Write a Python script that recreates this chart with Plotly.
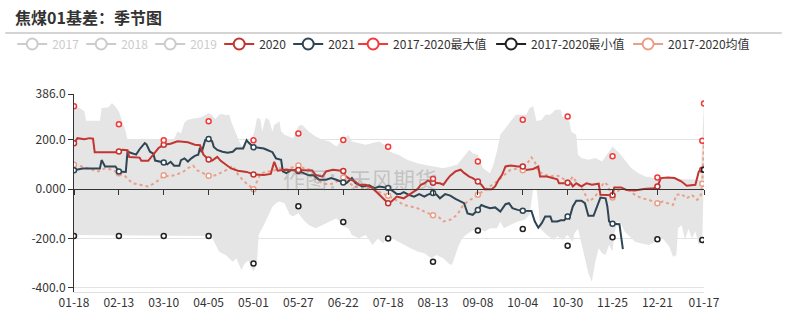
import plotly.graph_objects as go

# ---------------- data ----------------
TICK_IDX = [0, 26, 52, 78, 104, 130, 156, 182, 208, 234, 260, 286, 312, 338, 365]
TICK_LABELS = ['01-18', '02-13', '03-10', '04-05', '05-01', '05-27', '06-22', '07-18',
               '08-13', '09-08', '10-04', '10-30', '11-25', '12-21', '01-17']
MARK_IDX = [0, 26, 52, 78, 104, 130, 156, 182, 208, 234, 260, 286, 312, 338, 364, 365]

Y_TICKS = [386, 200, 0, -200, -400]
Y_TICKTEXT = ['386.0', '200.0', '0.000', '-200.0', '-400.0']
YMIN, YMAX = -417, 386

S2020 = [(0,186),(2,207),(6,203),(9,207),(11,205),(12,150),(25,150),(26,153),(28,160),(31,158),
         (32,130),(38,128),(39,115),(43,115),(45,133),(49,167),(52,180),(56,184),(60,194),(66,190),
         (70,180),(73,178),(75,140),(78,120),(80,116),(83,131),(85,115),(87,104),(91,84),(95,75),
         (100,70),(104,60),(110,58),(114,62),(116,111),(118,75),(122,79),(128,78),(130,78),(138,76),
         (140,58),(144,51),(146,72),(150,79),(156,74),(157,55),(160,40),(163,31),(165,18),(169,18),
         (173,4),(177,-23),(182,-57),(184,-50),(187,-30),(191,-37),(195,-20),(199,0),(201,18),(203,24),
         (205,35),(208,26),(212,24),(214,18),(216,38),(218,55),(221,72),(224,79),(226,66),(229,51),
         (231,45),(234,31),(236,18),(238,0),(242,0),(244,11),(246,38),(248,58),(250,92),(253,96),
         (257,92),(260,92),(262,78),(266,82),(269,92),(270,51),(274,51),(278,42),(280,40),(281,24),
         (286,26),(288,24),(289,11),(291,24),(294,11),(297,24),(300,18),(304,22),(305,-23),(310,-23),
         (312,-25),(313,7),(317,7),(320,-3),(325,-5),(330,1),(336,4),(338,11),(340,45),(344,47),
         (348,45),(352,31),(355,14),(360,18),(362,72),(364,79),(365,79)]

S2021 = [(0,77),(5,84),(15,84),(16,118),(18,92),(24,92),(26,72),(30,70),(31,152),(34,146),
         (36,140),(38,162),(41,187),(42,182),(44,152),(46,144),(47,116),(52,108),(54,101),(56,111),
         (58,95),(61,95),(62,118),(64,125),(66,112),(68,125),(70,135),(72,140),(73,168),(74,150),
         (76,199),(78,203),(80,195),(81,171),(83,159),(86,152),(89,148),(92,152),(94,165),(98,165),
         (100,199),(101,190),(103,175),(104,170),(107,168),(110,165),(112,159),(115,150),(117,125),
         (120,119),(121,72),(123,65),(126,78),(130,74),(133,65),(136,56),(139,56),(142,38),(146,38),
         (149,45),(152,38),(156,27),(158,25),(161,45),(163,25),(167,11),(171,16),(174,4),(177,11),
         (182,5),(185,-9),(187,-20),(189,-20),(191,-12),(194,-23),(197,-30),(200,-20),(203,-30),
         (205,-22),(208,-16),(210,-22),(212,-37),(215,-20),(218,-26),(221,-39),(224,-50),(226,-57),
         (228,-98),(231,-104),(234,-84),(236,-64),(238,-70),(241,-77),(244,-74),(247,-91),(250,-61),
         (252,-57),(254,-77),(257,-84),(260,-87),(265,-88),(267,-131),(269,-156),(271,-138),
         (273,-111),(276,-111),(277,-131),(280,-131),(282,-126),(284,-126),(286,-111),(287,-118),
         (289,-70),(291,-47),(294,-47),(296,-57),(298,-108),(301,-108),(303,-70),(305,-34),(308,-37),
         (309,-70),(310,-131),(312,-140),(316,-142),(317,-199),(318,-243)]

SMEAN = [(0,99),(3,95),(8,85),(14,72),(18,85),(22,79),(26,65),(29,58),(31,42),(34,24),(38,18),
         (43,11),(45,18),(48,31),(52,56),(55,52),(59,58),(63,69),(66,85),(69,96),(71,78),(74,69),
         (78,54),(82,56),(85,65),(89,80),(92,95),(95,60),(98,35),(100,24),(104,0),(106,31),(108,60),
         (111,72),(115,72),(119,85),(122,79),(125,85),(130,96),(133,85),(137,79),(140,38),(144,24),
         (148,18),(152,30),(156,47),(159,30),(162,11),(166,4),(171,4),(174,-3),(178,-16),(182,-27),
         (185,-37),(188,-50),(191,-64),(195,-70),(199,-77),(203,-91),(208,-106),(211,-111),
         (214,-131),(218,-124),(222,-104),(225,-70),(228,-50),(231,-37),(234,-23),(238,-3),(241,11),
         (245,31),(249,56),(253,79),(257,83),(260,77),(262,99),(265,129),(267,110),(269,72),(272,61),
         (276,51),(279,56),(282,51),(286,27),(287,31),(289,51),(292,18),(295,-3),(298,-50),(301,-37),
         (304,-10),(307,28),(309,18),(312,-34),(314,-16),(317,4),(321,-3),(325,-23),(329,-37),
         (333,-43),(338,-57),(341,-50),(344,-57),(347,-64),(349,-23),(352,-20),(355,-37),(358,-23),
         (361,-43),(363,-30),(364,22),(365,194)]

MAX_VALUES = [336, 263, 198, 275, 198, 226, 199, 172, 42, 112, 282, 295, 134, 47, 196, 347]
MIN_VALUES = [-190, -190, -190, -190, -301, -69, -133, -200, -294, -168, -161, -229, -195, -203, -206, 79]

BAND_UPPER = [(0,336),(3,330),(6,316),(7,278),(15,278),(16,329),(20,332),(22,349),(24,335),(26,315),
              (28,275),(30,234),(31,200),(40,205),(50,200),(58,205),(60,234),(62,227),(64,270),(66,282),
              (70,288),(73,290),(76,300),(78,309),(80,300),(82,285),(84,302),(86,305),(88,300),(90,302),
              (91,275),(94,221),(97,173),(100,185),(103,194),(105,250),(106,289),(108,285),(109,234),
              (111,289),(113,282),(115,234),(116,260),(119,275),(120,234),(122,221),(127,207),(130,255),
              (132,261),(134,248),(136,234),(140,214),(144,200),(148,193),(152,173),(155,195),(159,221),
              (161,193),(165,187),(169,180),(173,187),(177,193),(181,173),(183,153),(185,146),(188,140),
              (193,119),(199,105),(203,99),(208,92),(214,85),(222,99),(226,133),(229,160),(231,146),
              (234,140),(237,85),(241,65),(243,100),(245,153),(247,221),(250,248),(253,275),(256,302),
              (262,302),(264,329),(266,336),(268,275),(271,282),(273,302),(276,302),(279,322),(282,322),
              (283,295),(285,289),(287,275),(288,234),(291,221),(292,140),(294,126),(298,119),(302,126),
              (306,112),(309,140),(312,173),(314,160),(316,146),(319,119),(323,85),(327,65),(331,51),
              (336,45),(356,42),(363,38),(364,196),(365,347)]

BAND_LOWER = [(0,-186),(80,-190),(81,-210),(84,-253),(86,-261),(88,-267),(91,-288),(92,-294),(94,-280),
              (97,-328),(99,-300),(101,-290),(104,-335),(106,-300),(107,-186),(109,-160),(111,-131),
              (115,-70),(117,-57),(119,-50),(122,-57),(125,-104),(127,-110),(130,-98),(133,-125),
              (136,-145),(140,-158),(144,-145),(148,-130),(152,-118),(156,-150),(159,-158),(161,-186),
              (165,-199),(169,-186),(173,-226),(176,-200),(179,-220),(182,-186),(184,-199),(188,-213),
              (191,-226),(195,-240),(199,-253),(203,-260),(207,-280),(210,-267),(214,-280),(217,-301),
              (219,-307),(221,-267),(223,-226),(225,-199),(227,-186),(230,-172),(234,-158),(238,-172),
              (241,-158),(245,-158),(247,-131),(249,-158),(253,-145),(257,-131),(261,-125),(264,-104),
              (265,-50),(266,0),(268,0),(269,-60),(270,-158),(274,-186),(278,-206),(280,-190),(283,-206),
              (286,-186),(289,-213),(290,-179),(292,-160),(294,-220),(296,-280),(298,-341),(300,-375),
              (302,-295),(304,-240),(306,-260),(308,-267),(310,-226),(312,-253),(313,-180),(315,-131),
              (317,-140),(319,-172),(321,-186),(325,-213),(329,-220),(333,-226),(337,-213),(341,-199),
              (345,-233),(347,-274),(349,-267),(350,-158),(352,-145),(354,-206),(356,-160),(358,-199),
              (360,-172),(362,-226),(364,-206),(365,79)]

# ---------------- styles ----------------
FONT = "Noto Sans CJK SC, Microsoft YaHei, sans-serif"
C2020 = '#c23531'
C2021 = '#2f4554'
CMAX = '#f23a3a'
CMIN = '#222222'
CMEAN = '#e8a08a'
CGREY = '#cccccc'
CBAND = '#e5e5e5'


def unzip(pairs):
    return [p[0] for p in pairs], [p[1] for p in pairs]


def marks(pairs, idx):
    sel = [p for p in pairs if p[0] in idx]
    return unzip(sel)


fig = go.Figure()

# band (base subplot)
bx_lo, by_lo = unzip(BAND_LOWER)
bx_hi, by_hi = unzip(BAND_UPPER)
fig.add_trace(go.Scatter(x=bx_lo, y=by_lo, mode='lines', line=dict(width=0, color=CBAND),
                         showlegend=False, hoverinfo='skip'))
fig.add_trace(go.Scatter(x=bx_hi, y=by_hi, mode='lines', line=dict(width=0, color=CBAND),
                         fill='tonexty', fillcolor=CBAND, showlegend=False, hoverinfo='skip'))

# lines (base subplot)
mx, my = unzip(SMEAN)
fig.add_trace(go.Scatter(x=mx, y=my, mode='lines', line=dict(color=CMEAN, width=2, dash='dot'),
                         showlegend=False))
x21, y21 = unzip(S2021)
fig.add_trace(go.Scatter(x=x21, y=y21, mode='lines', line=dict(color=C2021, width=2),
                         showlegend=False))
x20, y20 = unzip(S2020)
fig.add_trace(go.Scatter(x=x20, y=y20, mode='lines', line=dict(color=C2020, width=2),
                         showlegend=False))


def marker_trace(x, y, color):
    # markers live on the overlaying x2 axis (same range), drawn on top
    return go.Scatter(x=x, y=y, mode='markers', xaxis='x2', yaxis='y',
                      marker=dict(symbol='circle', size=5, color='white',
                                  line=dict(color=color, width=1.5)),
                      showlegend=False)


fig.add_trace(marker_trace(*marks(SMEAN, MARK_IDX), CMEAN))
fig.add_trace(marker_trace(*marks(S2021, MARK_IDX), C2021))
fig.add_trace(marker_trace(*marks(S2020, MARK_IDX), C2020))
fig.add_trace(marker_trace(MARK_IDX, MIN_VALUES, CMIN))
fig.add_trace(marker_trace(MARK_IDX, MAX_VALUES, CMAX))

# legend entries: (name, colour, legend id, entry width)
LEGEND = [('<span style="color:#cccccc">2017</span>', CGREY, 'legend', 24),
          ('<span style="color:#cccccc">2018</span>', CGREY, 'legend', 24),
          ('<span style="color:#cccccc">2019</span>', CGREY, 'legend', 24),
          ('2020', C2020, 'legend', 24),
          ('2021', C2021, 'legend', 24),
          ('2017-2020最大值', CMAX, 'legend2', 93),
          ('2017-2020最小值', CMIN, 'legend2', 92),
          ('2017-2020均值', CMEAN, 'legend2', 86)]
for i, (name, col, lg, lw) in enumerate(LEGEND):
    fig.add_trace(go.Scatter(x=[None], y=[None], mode='lines+markers', name=name,
                             line=dict(color=col, width=2),
                             marker=dict(symbol='circle', size=11, color='white',
                                         line=dict(color=col, width=2)),
                             legend=lg, legendwidth=lw, legendrank=i + 1, showlegend=True))

# ---------------- layout ----------------
L, R, T, B = 72, 88, 94, 30
W, H = 792, 322
pw, ph = W - L - R, H - T - B


def px_x(p):
    return (p - L) / pw


def px_y(p):
    return (H - B - p) / ph


zero_pos = (0 - YMIN) / (YMAX - YMIN)

legend_common = dict(orientation='h', yanchor='middle', y=px_y(44), xanchor='left',
                     font=dict(size=12, color='#333333', family=FONT),
                     bgcolor='rgba(0,0,0,0)', itemclick=False, traceorder='normal',
                     borderwidth=0)

fig.update_layout(
    width=W, height=H, autosize=False,
    margin=dict(l=L, r=R, t=T, b=B, pad=0),
    paper_bgcolor='white', plot_bgcolor='white',
    font=dict(family=FONT, size=12, color='#333333'),
    showlegend=True,
    legend=dict(x=px_x(10), **legend_common),
    legend2=dict(x=px_x(352), **legend_common),
    xaxis=dict(range=[0, 365], anchor='y', side='bottom', showline=True,
               linecolor='#e0e0e0', linewidth=1, ticks='', tickvals=TICK_IDX, ticktext=TICK_LABELS,
               showgrid=False, zeroline=False, tickfont=dict(size=12, color='#333333')),
    xaxis2=dict(range=[0, 365], overlaying='x', anchor='free', position=zero_pos, showline=True,
                linecolor='#333333', linewidth=1, ticks='outside', ticklen=5, tickcolor='#333333',
                tickvals=TICK_IDX, showticklabels=False, showgrid=False, zeroline=False),
    yaxis=dict(range=[YMIN, YMAX], tickvals=Y_TICKS, ticktext=Y_TICKTEXT, showgrid=True,
               gridcolor='#e3e3e3', gridwidth=1, showline=True, linecolor='#333333', linewidth=1,
               ticks='outside', ticklen=5, tickcolor='#333333', zeroline=False,
               tickfont=dict(size=12, color='#333333')),
    annotations=[
        dict(text='<b>焦煤01基差：季节图</b>', xref='paper', yref='paper', x=px_x(11), y=px_y(17),
             xanchor='left', yanchor='middle', showarrow=False,
             font=dict(size=16, color='#333333', family=FONT)),
        dict(text='作图：天风期货', xref='paper', yref='paper', x=px_x(359), y=px_y(178),
             xanchor='center', yanchor='middle', showarrow=False,
             font=dict(size=22, color='rgba(110,110,110,0.3)', family=FONT)),
    ],
    shapes=[dict(type='line', xref='paper', yref='paper', x0=px_x(3), x1=px_x(782),
                 y0=px_y(33), y1=px_y(33), line=dict(color='#aaaaaa', width=1))],
)

fig.write_html("out.html")
